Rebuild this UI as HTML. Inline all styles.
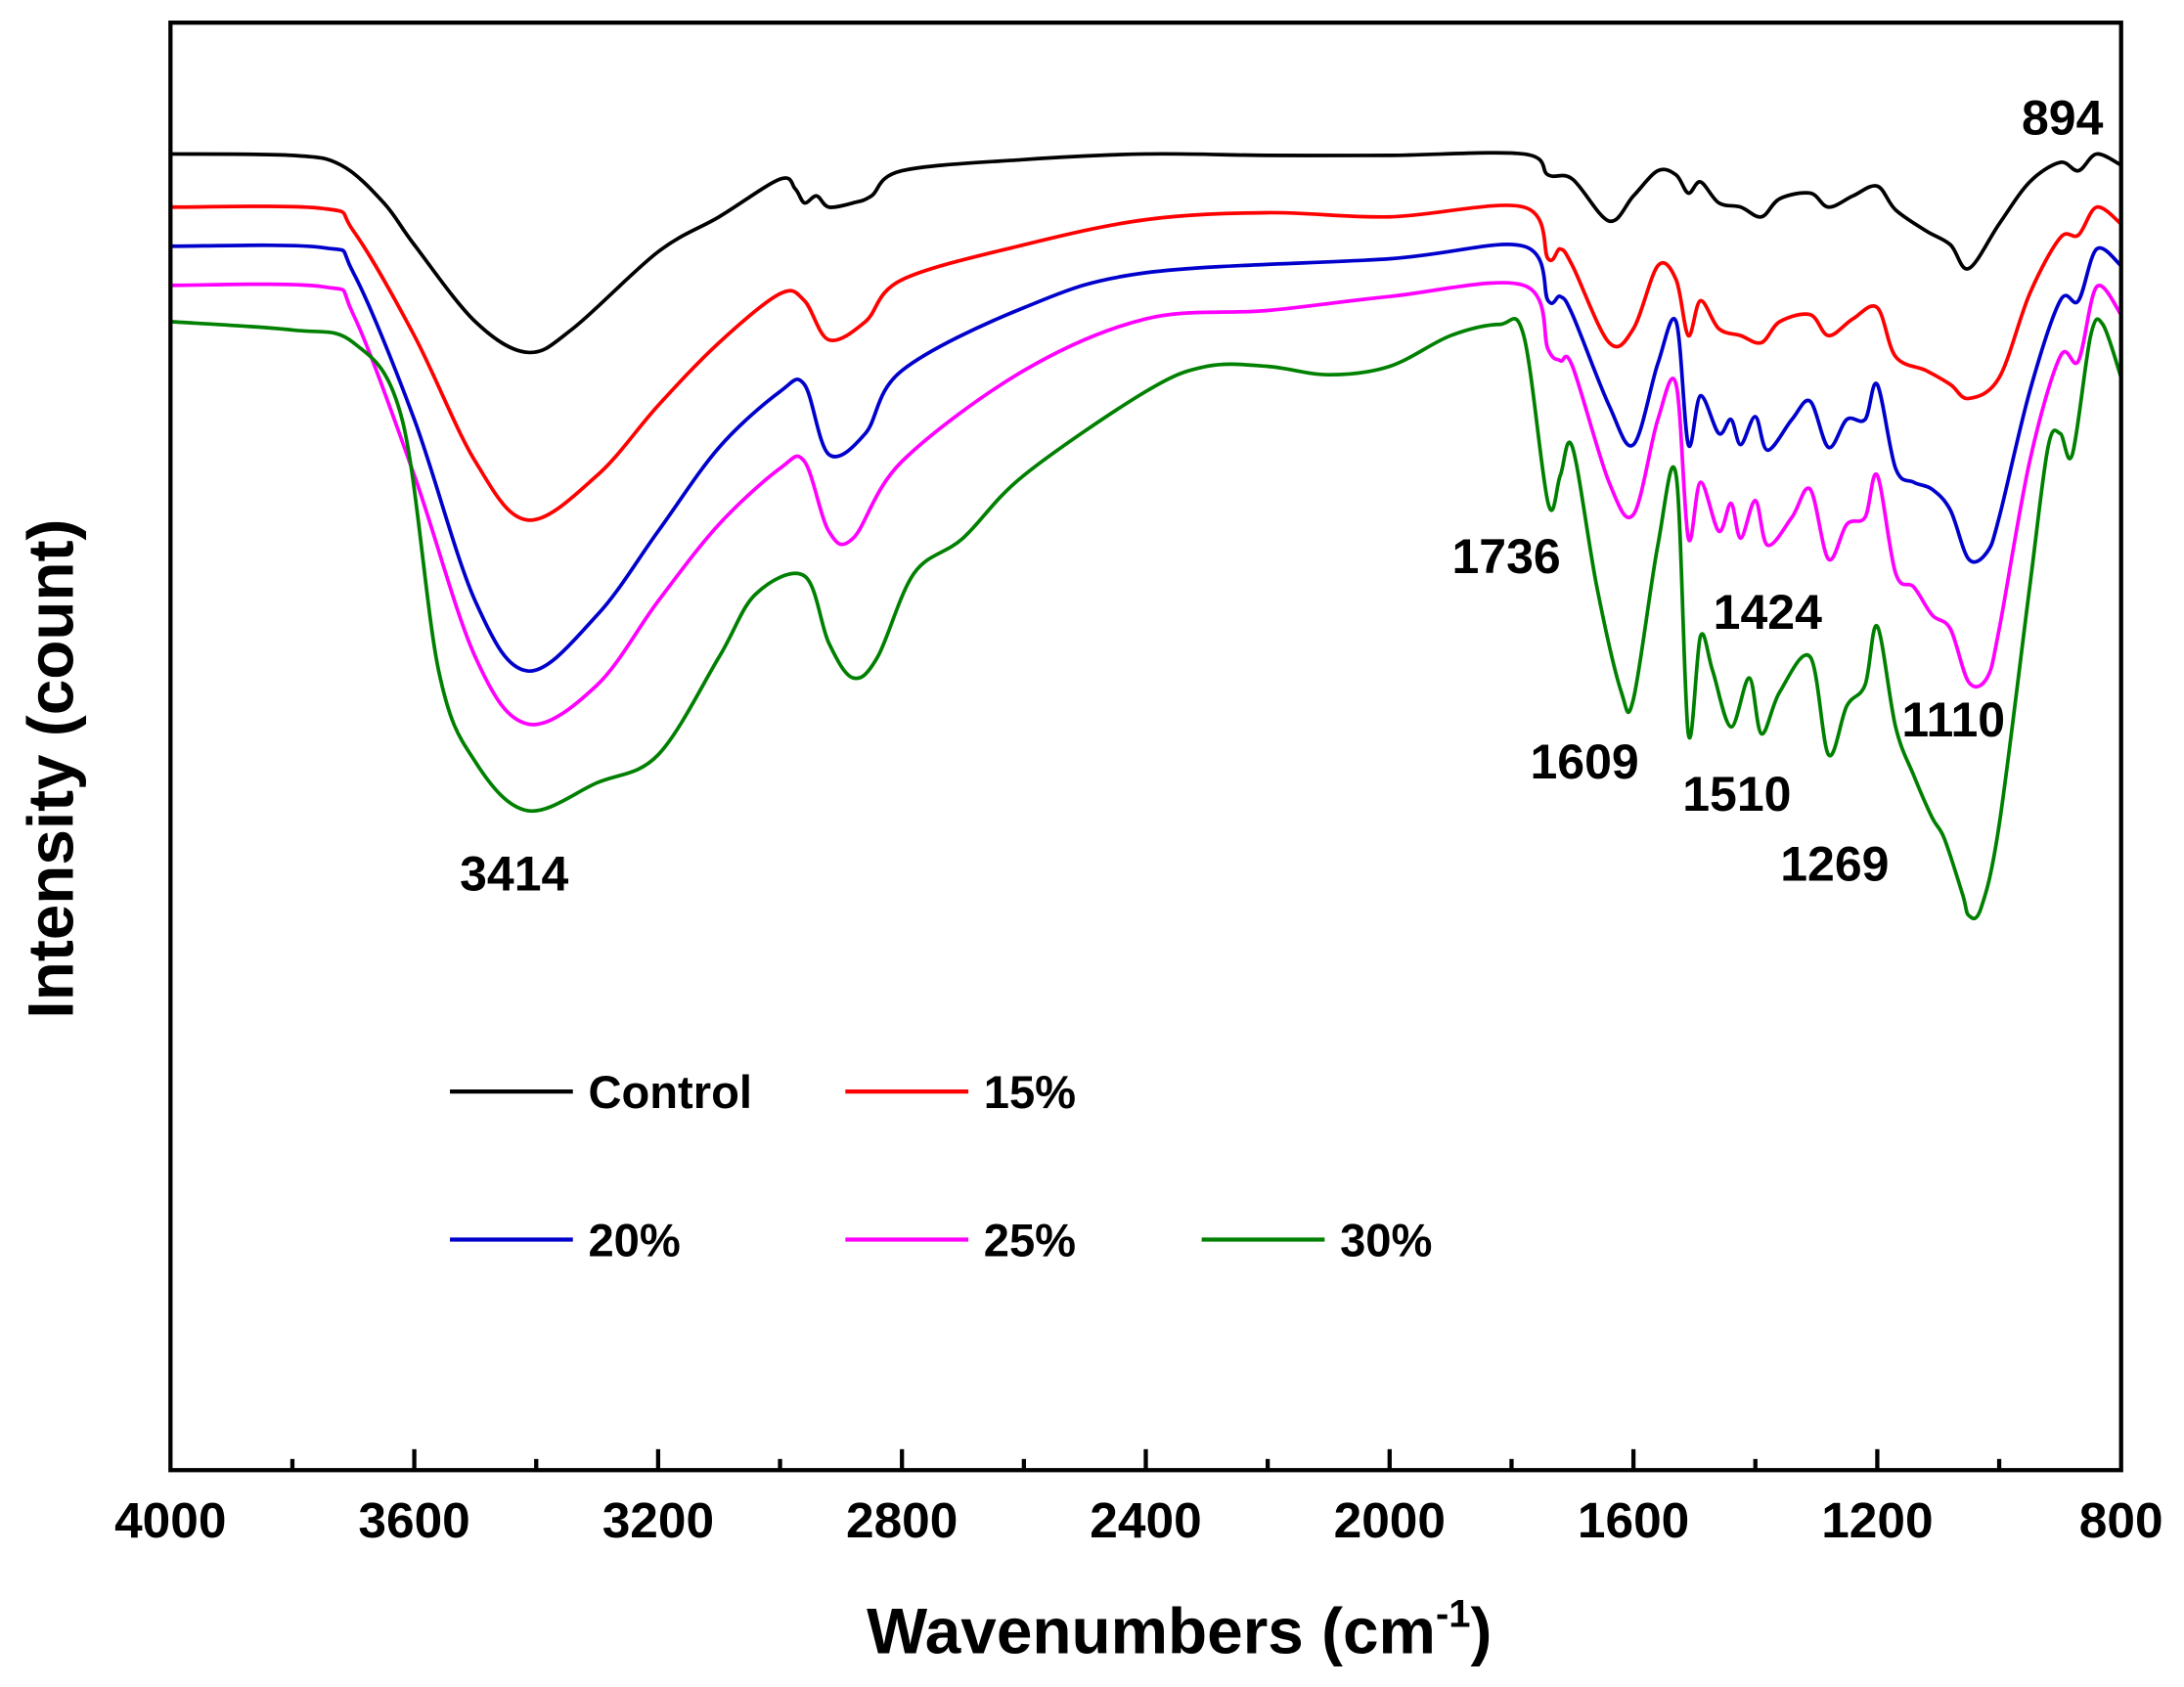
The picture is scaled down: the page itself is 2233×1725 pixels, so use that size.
<!DOCTYPE html>
<html><head><meta charset="utf-8"><style>html,body{margin:0;padding:0;background:#fff}svg{display:block}</style></head>
<body>
<svg id="s" width="2233" height="1725" viewBox="0 0 1563 1207" xmlns="http://www.w3.org/2000/svg" font-family="Liberation Sans, Arial, sans-serif" font-weight="bold">
<rect x="0" y="0" width="1563" height="1207" fill="#fff"/>
<g id="curves" fill="none" stroke-width="2.6" stroke-linejoin="round"></g>
<rect x="122" y="16" width="1396" height="1036" fill="none" stroke="#000" stroke-width="3"/>
<g id="ticks" stroke="#000" stroke-width="3"></g>
<g font-size="36" text-anchor="middle" fill="#000">
<text x="122" y="1100">4000</text><text x="296.5" y="1100">3600</text><text x="471" y="1100">3200</text><text x="645.5" y="1100">2800</text><text x="820" y="1100">2400</text><text x="994.5" y="1100">2000</text><text x="1169" y="1100">1600</text><text x="1343.5" y="1100">1200</text><text x="1518" y="1100">800</text>
</g>
<text x="844" y="1183" font-size="46" text-anchor="middle">Wavenumbers (cm<tspan font-size="28" dy="-19">-1</tspan><tspan dy="19">)</tspan></text>
<text transform="translate(52,550) rotate(-90)" font-size="46" text-anchor="middle">Intensity (count)</text>
<g font-size="35" text-anchor="middle">
<text x="1476" y="96">894</text><text x="368" y="637">3414</text><text x="1078" y="410">1736</text><text x="1134" y="557">1609</text><text x="1265" y="450">1424</text><text x="1243" y="580">1510</text><text x="1398" y="527">1110</text><text x="1313" y="630">1269</text>
</g>
<g stroke-width="3">
<line x1="322" y1="781" x2="410" y2="781" stroke="#000"/><line x1="605" y1="781" x2="693" y2="781" stroke="#f00"/>
<line x1="322" y1="887" x2="410" y2="887" stroke="#00c"/><line x1="605" y1="887" x2="693" y2="887" stroke="#f0f"/><line x1="860" y1="887" x2="948" y2="887" stroke="#008000"/>
</g>
<g font-size="33">
<text x="421" y="793">Control</text><text x="704" y="793">15%</text>
<text x="421" y="899">20%</text><text x="704" y="899">25%</text><text x="959" y="899">30%</text>
</g>
</svg>
<script>
const X=w=>122+(4000-w)*0.43625;
const data={
"#000":[[4000,110],[3800,111],[3720,118],[3650,145],[3600,175],[3500,230],[3414,252],[3340,235],[3200,180],[3100,155],[3000,128],[2975,135],[2960,145],[2940,140],[2920,148],[2880,145],[2850,140],[2800,122],[2600,114],[2400,110],[2200,111],[2000,111],[1780,110],[1740,125],[1700,128],[1640,158],[1600,140],[1560,122],[1530,125],[1510,138],[1490,130],[1460,145],[1424,148],[1390,155],[1360,142],[1310,138],[1280,148],[1240,140],[1200,133],[1170,150],[1120,165],[1080,175],[1050,192],[1000,160],[950,130],[900,116],[870,122],[840,110],[800,118]],
"#f00":[[4000,148],[3750,149],[3700,165],[3600,240],[3500,330],[3414,372],[3300,340],[3200,290],[3100,245],[3000,210],[2960,215],[2920,243],[2860,230],[2800,200],[2600,175],[2400,157],[2200,152],[2000,155],[1780,148],[1740,185],[1720,178],[1700,190],[1640,245],[1600,235],[1560,190],[1530,200],[1510,240],[1490,215],[1460,235],[1424,240],[1390,245],[1360,230],[1310,225],[1280,240],[1240,228],[1200,220],[1170,255],[1120,265],[1080,275],[1050,285],[1000,270],[950,210],[900,170],[870,168],[840,148],[800,160]],
"#00c":[[4000,176],[3750,177],[3700,195],[3600,300],[3500,430],[3414,480],[3300,440],[3200,380],[3100,320],[3000,280],[2960,275],[2920,325],[2860,310],[2800,265],[2600,220],[2400,195],[2000,185],[1780,176],[1740,215],[1720,212],[1700,225],[1640,290],[1600,318],[1560,260],[1530,230],[1510,318],[1490,283],[1460,310],[1440,300],[1424,318],[1400,298],[1380,322],[1340,300],[1310,287],[1280,320],[1250,300],[1220,300],[1200,275],[1170,335],[1140,345],[1110,350],[1080,365],[1050,400],[1020,395],[1000,370],[950,280],[900,215],[870,215],[840,178],[800,190]],
"#f0f":[[4000,204],[3750,205],[3700,225],[3600,340],[3500,470],[3414,518],[3300,490],[3200,430],[3100,375],[3000,335],[2960,330],[2920,380],[2880,385],[2800,330],[2600,265],[2400,228],[2200,222],[2000,212],[1780,204],[1740,250],[1720,258],[1700,262],[1640,345],[1600,368],[1560,300],[1530,275],[1510,385],[1490,345],[1460,380],[1440,360],[1424,385],[1400,358],[1380,390],[1340,370],[1310,350],[1280,400],[1250,375],[1220,370],[1200,340],[1170,410],[1140,420],[1110,440],[1080,450],[1050,488],[1020,485],[1000,450],[950,330],[900,255],[870,258],[840,205],[800,225]],
"#008000":[[4000,230],[3800,236],[3700,245],[3620,300],[3560,480],[3500,545],[3414,580],[3300,560],[3200,540],[3100,470],[3040,425],[2960,412],[2920,460],[2880,485],[2840,470],[2780,410],[2700,385],[2600,340],[2400,280],[2300,262],[2200,262],[2100,268],[2000,262],[1900,240],[1820,232],[1780,240],[1740,360],[1720,340],[1700,320],[1660,420],[1620,495],[1600,500],[1560,390],[1530,340],[1510,525],[1490,455],[1470,480],[1440,520],[1410,485],[1390,525],[1360,495],[1310,470],[1280,540],[1250,505],[1220,490],[1200,448],[1170,520],[1140,555],[1110,585],[1090,600],[1060,640],[1050,655],[1030,650],[1000,590],[950,420],[920,320],[900,310],[880,325],[850,240],[830,232],[800,270]]};
const g=document.getElementById('curves');
for(const c in data){const p=data[c].map(a=>[X(a[0]),a[1]]);let d='M'+p[0][0]+','+p[0][1];
for(let i=0;i<p.length-1;i++){const p0=p[Math.max(0,i-1)],p1=p[i],p2=p[i+1],p3=p[Math.min(p.length-1,i+2)];
d+=' C'+(p1[0]+(p2[0]-p0[0])/6)+','+(p1[1]+(p2[1]-p0[1])/6)+' '+(p2[0]-(p3[0]-p1[0])/6)+','+(p2[1]-(p3[1]-p1[1])/6)+' '+p2[0]+','+p2[1];}
const e=document.createElementNS('http://www.w3.org/2000/svg','path');e.setAttribute('d',d);e.setAttribute('stroke',c);g.appendChild(e);}
const t=document.getElementById('ticks');let h='';
for(let w=3800;w>800;w-=200){const x=X(w),L=(w%400==0)?15:8;h+=`<line x1="${x}" y1="1052" x2="${x}" y2="${1052-L}"/>`;}
t.innerHTML=h;
</script>
</body></html>
